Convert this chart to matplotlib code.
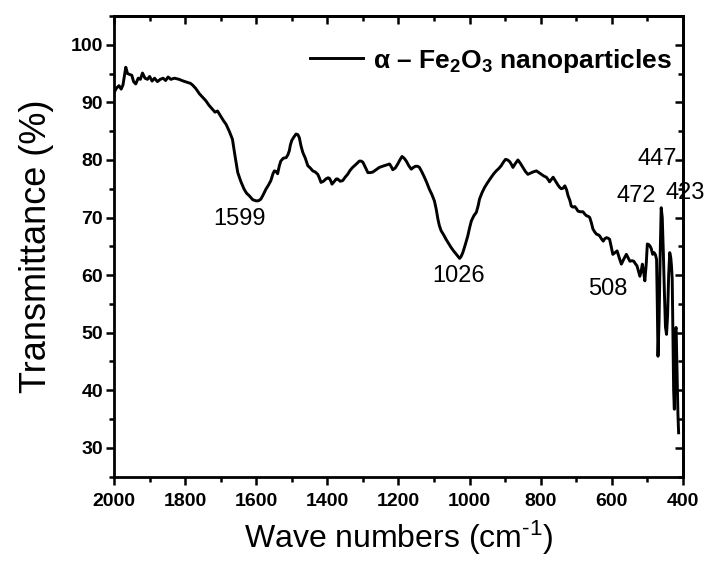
import matplotlib
matplotlib.use("Agg")
import matplotlib.pyplot as plt
from matplotlib.ticker import MultipleLocator

plt.rcParams['font.family'] = ['Liberation Sans', 'DejaVu Sans']
plt.rcParams['mathtext.fontset'] = 'custom'
plt.rcParams['mathtext.rm'] = 'Liberation Sans'
plt.rcParams['mathtext.bf'] = 'Liberation Sans:bold'
plt.rcParams['mathtext.it'] = 'Liberation Sans:italic'

# FTIR spectrum (wavenumber cm-1, transmittance %)
wavenumber = [
    2000, 1993, 1986, 1980, 1975, 1967, 1962, 1958, 1950, 1945, 1939, 1932, 1926, 1920,
    1913, 1906, 1900, 1893, 1886, 1878, 1870, 1862, 1855, 1848, 1840, 1830, 1817, 1805,
    1795, 1785, 1779, 1770, 1760, 1751, 1742, 1733, 1723, 1716, 1709, 1700, 1692, 1685,
    1676, 1667, 1660, 1652, 1643, 1634, 1627, 1620, 1610, 1601, 1594, 1587, 1580, 1573,
    1566, 1559, 1553, 1549, 1544, 1540, 1535, 1531, 1524, 1516, 1511, 1507, 1504, 1500,
    1494, 1488, 1483, 1479, 1474, 1469, 1462, 1455, 1448, 1441, 1434, 1427, 1422, 1418,
    1411, 1404, 1398, 1394, 1390, 1387, 1380, 1375, 1371, 1364, 1357, 1350, 1343, 1336,
    1329, 1320, 1310, 1305, 1300, 1293, 1286, 1279, 1272, 1263, 1254, 1240, 1225, 1220,
    1216, 1209, 1202, 1196, 1190, 1184, 1178, 1171, 1164, 1158, 1152, 1146, 1141, 1134,
    1127, 1120, 1113, 1106, 1099, 1094, 1089, 1085, 1080, 1073, 1066, 1059, 1052, 1045,
    1037, 1032, 1028, 1024, 1019, 1012, 1005, 1000, 995, 988, 981, 976, 972, 965,
    958, 950, 939, 932, 925, 918, 911, 905, 899, 893, 887, 882, 878, 871,
    864, 857, 850, 843, 836, 829, 822, 817, 812, 805, 798, 791, 784, 779,
    775, 770, 765, 758, 751, 746, 742, 737, 732, 727, 723, 718, 714, 709,
    704, 700, 695, 688, 681, 676, 671, 666, 662, 657, 653, 648, 643, 638,
    634, 629, 624, 620, 615, 610, 606, 601, 597, 591, 585, 579, 573, 566,
    559, 554, 549, 543, 538, 534, 529, 525, 521, 517, 514, 510, 507, 503,
    500, 496, 493, 489, 485, 481, 477, 474, 472, 470, 467, 464, 461, 458,
    455, 452, 449, 446, 443, 440, 437, 434, 432, 430, 428, 426, 424, 423,
    421, 419, 418, 416, 414, 412,
]
transmittance = [
    91.7, 92.5, 92.9, 92.3, 93.0, 96.1, 95.0, 94.9, 94.7, 93.6, 93.2, 94.2, 94.0, 95.1,
    94.2, 94.0, 94.5, 93.7, 94.2, 93.6, 94.0, 94.2, 93.8, 94.4, 94.0, 94.2, 94.0, 93.7,
    93.5, 93.3, 93.0, 92.4, 91.5, 90.9, 90.3, 89.5, 88.8, 88.3, 88.5, 87.6, 86.8, 86.2,
    85.0, 83.6, 80.8, 77.8, 76.2, 74.9, 74.2, 73.8, 73.1, 72.9, 72.9, 73.2, 74.0, 74.9,
    75.6, 76.4, 77.6, 78.1, 78.0, 77.6, 79.0, 79.8, 80.3, 80.4, 80.9, 81.6, 82.6, 83.4,
    84.0, 84.5, 84.4, 83.9, 82.4, 81.3, 80.3, 79.0, 78.6, 78.1, 77.9, 77.5, 76.8, 76.1,
    76.3, 76.7, 76.9, 76.8, 76.3, 75.8, 76.3, 76.7, 76.7, 76.3, 76.4, 77.0, 77.5, 78.2,
    78.7, 79.2, 79.8, 79.8, 79.6, 78.7, 77.8, 77.8, 77.9, 78.3, 78.7, 79.0, 79.3, 78.8,
    78.3, 78.6, 79.3, 80.0, 80.6, 80.3, 79.8, 79.0, 78.4, 78.7, 78.9, 78.9, 78.7, 77.9,
    77.0, 76.0, 74.9, 74.0, 72.9, 71.5, 69.7, 68.6, 67.7, 67.0, 66.2, 65.5, 64.8, 64.2,
    63.6, 63.2, 62.9, 63.2, 63.9, 65.3, 66.8, 68.2, 69.4, 70.3, 70.9, 72.0, 73.2, 74.3,
    75.2, 76.0, 77.0, 77.6, 78.1, 78.5, 79.0, 79.6, 80.1, 80.0, 79.7, 79.2, 78.7, 79.4,
    80.0, 79.4, 78.7, 78.0, 77.5, 77.7, 77.9, 78.0, 78.1, 77.8, 77.5, 77.2, 77.0, 76.6,
    76.2, 76.6, 77.0, 76.3, 75.6, 75.2, 75.0, 75.1, 75.5, 74.8, 73.8, 73.0, 72.0, 71.8,
    71.9, 71.6, 71.1, 71.0, 71.0, 70.6, 70.3, 70.2, 70.0, 69.0, 68.0, 67.5, 67.1, 67.0,
    66.8, 66.3, 65.9, 66.3, 66.5, 66.4, 66.2, 64.8, 63.6, 63.9, 64.2, 63.0, 61.9, 62.8,
    63.6, 63.0, 62.4, 62.5, 62.4, 62.0, 61.6, 60.7, 59.8, 60.8, 61.9, 60.4, 59.0, 62.0,
    65.4, 65.3, 65.1, 64.6, 63.6, 63.9, 63.5, 62.7, 55.0, 45.9, 52.0, 63.0, 71.7, 70.0,
    64.0, 57.0, 51.0, 49.7, 53.0, 60.0, 63.9, 63.0, 61.5, 59.3, 50.0, 40.0, 36.7, 42.0,
    50.5, 50.9, 48.0, 42.0, 36.0, 32.6,
]

# peak labels: text, x, y
peak_labels = ['1599', '1026', '508', '472', '447', '423']
peak_x = [1648, 1030, 612, 532, 471, 394]
peak_y = [69.7, 59.8, 57.5, 73.8, 80.1, 74.3]

fig = plt.figure(figsize=(7.04, 5.62), dpi=100)
ax = fig.add_axes([0.162, 0.152, 0.808, 0.8195])

ax.plot(wavenumber, transmittance, color='black', lw=2.1, solid_joinstyle='round',
        label=r'α – Fe$_\mathbf{2}$O$_\mathbf{3}$ nanoparticles')

ax.set_xlim(2000, 400)
ax.set_ylim(25, 105)
ax.xaxis.set_major_locator(MultipleLocator(200))
ax.xaxis.set_minor_locator(MultipleLocator(100))
ax.yaxis.set_minor_locator(MultipleLocator(5))
ax.set_yticks([30, 40, 50, 60, 70, 80, 90, 100])

for sp in ax.spines.values():
    sp.set_linewidth(2.0)
ax.tick_params(which='major', direction='out', length=6, width=1.8, labelsize=14, pad=2)
ax.tick_params(which='minor', direction='out', length=3.5, width=1.8)
ax.tick_params(axis='x', which='major', pad=6)
for lab in ax.get_xticklabels() + ax.get_yticklabels():
    lab.set_fontweight('bold')

# mirrored inward ticks on top and right
top = ax.secondary_xaxis('top')
top.xaxis.set_major_locator(MultipleLocator(200))
top.xaxis.set_minor_locator(MultipleLocator(100))
top.tick_params(which='major', direction='in', length=6, width=1.8, labeltop=False)
top.tick_params(which='minor', direction='in', length=3.5, width=1.8)
right = ax.secondary_yaxis('right')
right.yaxis.set_major_locator(MultipleLocator(10))
right.yaxis.set_minor_locator(MultipleLocator(5))
right.tick_params(which='major', direction='in', length=6, width=1.8, labelright=False)
right.tick_params(which='minor', direction='in', length=3.5, width=1.8)
top.spines['top'].set_linewidth(2.0)
right.spines['right'].set_linewidth(2.0)

ax.set_xlabel(r'Wave numbers (cm$^{\text{-}1}$)', fontsize=23, labelpad=6)
ax.set_ylabel('Transmittance (%)', fontsize=26, labelpad=12)

for t, x, y in zip(peak_labels, peak_x, peak_y):
    ax.text(x, y, t, fontsize=17, ha='center', va='center', clip_on=False)

ax.legend(loc='upper right', frameon=False, bbox_to_anchor=(1.022, 0.985),
          handlelength=2.0, handletextpad=0.38,
          prop={'weight': 'bold', 'size': 19})

fig.savefig('out.png', dpi=100)
